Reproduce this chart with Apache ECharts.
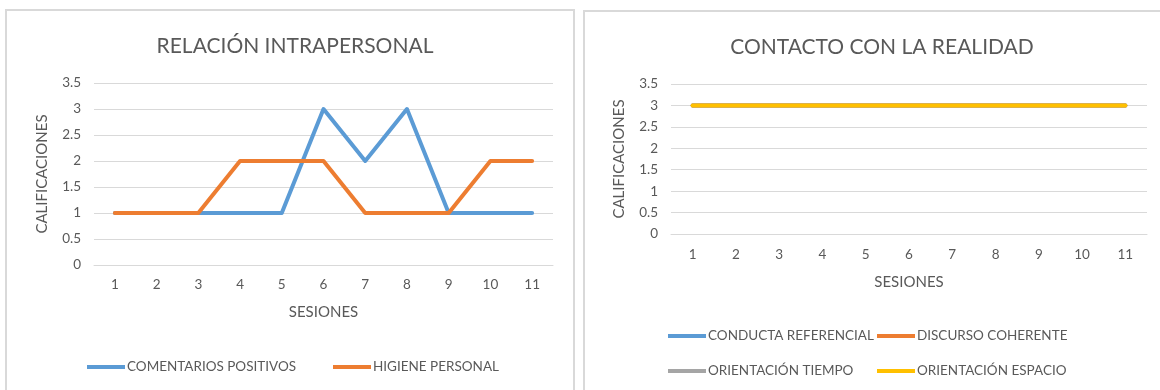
<!DOCTYPE html>
<html>
<head>
<meta charset="utf-8">
<script src="https://cdn.jsdelivr.net/npm/echarts@6/dist/echarts.min.js"></script>
<style>
html,body{margin:0;padding:0;background:#fff;}
#c{width:1160px;height:390px;}
</style>
</head>
<body>
<div id="c"></div>
<script>
const sessions = ['1','2','3','4','5','6','7','8','9','10','11'];
const yTicks = [0, 3.5, 0.5]; // min, max, interval

const leftTitle = 'RELACIÓN INTRAPERSONAL';
const comentariosPositivos = [1, 1, 1, 1, 1, 3, 2, 3, 1, 1, 1];
const higienePersonal = [1, 1, 1, 2, 2, 2, 1, 1, 1, 2, 2];

const rightTitle = 'CONTACTO CON LA REALIDAD';
const conductaReferencial = [3, 3, 3, 3, 3, 3, 3, 3, 3, 3, 3];
const discursoCoherente = [3, 3, 3, 3, 3, 3, 3, 3, 3, 3, 3];
const orientacionTiempo = [3, 3, 3, 3, 3, 3, 3, 3, 3, 3, 3];
const orientacionEspacio = [3, 3, 3, 3, 3, 3, 3, 3, 3, 3, 3];

const xName = 'SESIONES';
const yName = 'CALIFICACIONES';

const FONT = 'Lato';
const TXT = '#595959';
const GRID = '#D9D9D9';
const C = { blue: '#5B9BD5', orange: '#ED7D31', gray: '#A5A5A5', yellow: '#FFC000' };

function xAxis(gridIndex, margin, nameGap) {
  return {
    type: 'category', gridIndex, data: sessions, boundaryGap: true,
    axisLine: { lineStyle: { color: GRID, width: 1 } },
    axisTick: { show: false },
    axisLabel: { color: TXT, fontFamily: FONT, fontSize: 13.5, margin },
    name: xName, nameLocation: 'middle', nameGap,
    nameTextStyle: { color: TXT, fontFamily: FONT, fontSize: 15 }
  };
}
function yAxis(gridIndex) {
  return {
    type: 'value', gridIndex, min: yTicks[0], max: yTicks[1], interval: yTicks[2],
    axisLine: { show: false }, axisTick: { show: false },
    splitLine: { lineStyle: { color: GRID, width: 1 } },
    axisLabel: { color: TXT, fontFamily: FONT, fontSize: 13.5, margin: 13 },
    name: yName, nameLocation: 'middle', nameGap: 44, nameRotate: 90,
    nameTextStyle: { color: TXT, fontFamily: FONT, fontSize: 15 }
  };
}
function line(name, data, color, gi) {
  return {
    name, type: 'line', data, xAxisIndex: gi, yAxisIndex: gi,
    showSymbol: false, symbol: 'none',
    lineStyle: { color, width: 4, cap: 'round', join: 'round' },
    itemStyle: { color }
  };
}
function legend(name, left, top) {
  return {
    orient: 'horizontal', icon: 'rect', itemWidth: 38, itemHeight: 4,
    selectedMode: false, padding: 0, left, top, data: [name],
    textStyle: { color: TXT, fontFamily: FONT, fontSize: 13.5, padding: [0, 0, 0, -3] }
  };
}

const chart = echarts.init(document.getElementById('c'), null, { renderer: 'canvas' });
chart.setOption({
  animation: false,
  backgroundColor: '#fff',
  graphic: [
    { type: 'rect', shape: { x: 6, y: 10, width: 568, height: 420 },
      style: { fill: 'none', stroke: GRID, lineWidth: 2 }, silent: true },
    { type: 'rect', shape: { x: 584, y: 11, width: 620, height: 420 },
      style: { fill: 'none', stroke: GRID, lineWidth: 2 }, silent: true }
  ],
  title: [
    { text: leftTitle, left: 290, top: 31, textAlign: 'center',
      textStyle: { color: TXT, fontFamily: FONT, fontSize: 21, fontWeight: 'normal' } },
    { text: rightTitle, left: 877, top: 32, textAlign: 'center',
      textStyle: { color: TXT, fontFamily: FONT, fontSize: 21, fontWeight: 'normal' } }
  ],
  grid: [
    { left: 94, top: 83, width: 459, height: 182 },
    { left: 671, top: 84, width: 476, height: 150 }
  ],
  xAxis: [xAxis(0, 13, 40), xAxis(1, 14, 41)],
  yAxis: [yAxis(0), yAxis(1)],
  legend: [
    legend('COMENTARIOS POSITIVOS', 87, 360),
    legend('HIGIENE PERSONAL', 333, 360),
    legend('CONDUCTA REFERENCIAL', 668, 329),
    legend('DISCURSO COHERENTE', 877, 329),
    legend('ORIENTACIÓN TIEMPO', 668, 364),
    legend('ORIENTACIÓN ESPACIO', 877, 364)
  ],
  series: [
    line('COMENTARIOS POSITIVOS', comentariosPositivos, C.blue, 0),
    line('HIGIENE PERSONAL', higienePersonal, C.orange, 0),
    line('CONDUCTA REFERENCIAL', conductaReferencial, C.blue, 1),
    line('DISCURSO COHERENTE', discursoCoherente, C.orange, 1),
    line('ORIENTACIÓN TIEMPO', orientacionTiempo, C.gray, 1),
    line('ORIENTACIÓN ESPACIO', orientacionEspacio, C.yellow, 1)
  ]
});
</script>
</body>
</html>
